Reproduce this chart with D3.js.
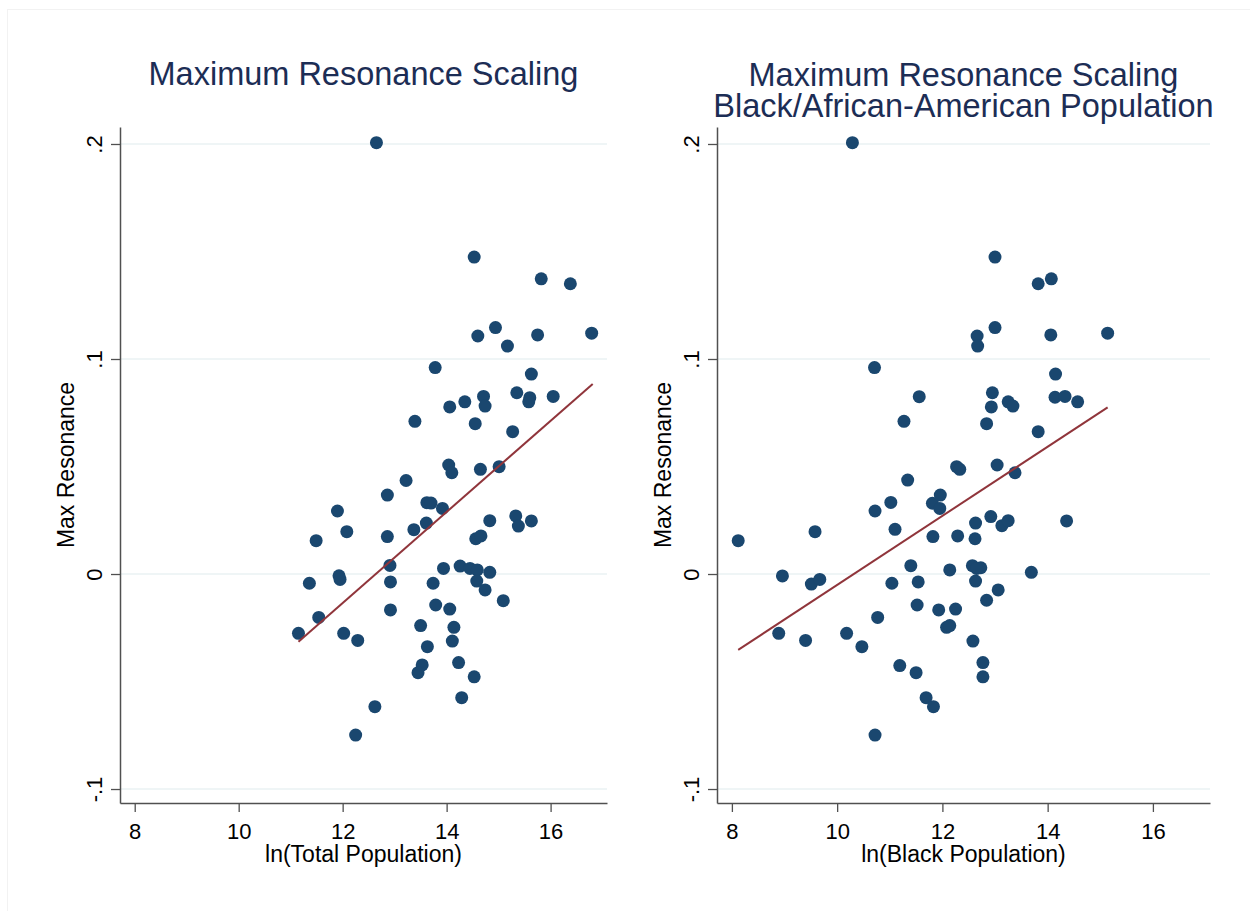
<!DOCTYPE html>
<html>
<head>
<meta charset="utf-8">
<script src="https://cdn.jsdelivr.net/npm/d3@7/dist/d3.min.js"></script>
<style>
  html, body { margin: 0; padding: 0; background: #fff; }
  svg { display: block; font-family: "Liberation Sans", Arial, sans-serif; }
</style>
</head>
<body>
<svg id="chart" width="1250" height="911"></svg>
<script>
// ---- Data ----
const xTicks = [8, 10, 12, 14, 16];
const yTicks = [0.2, 0.1, 0, -0.1];
const yTickLabels = [".2", ".1", "0", "-.1"];

// Left panel: ln(Total Population) vs Max Resonance
const lnTotal = [
  12.65, 14.53, 15.82, 16.38, 14.94, 14.60, 15.75, 16.79, 15.17, 13.78,
  15.63, 15.35, 14.71, 15.60, 15.58, 16.05, 14.35, 14.74, 14.06, 13.39,
  14.55, 15.27, 14.04, 14.65, 15.01, 14.10, 13.22,
  12.86, 13.62, 13.70, 11.90, 13.92, 13.61, 13.37, 12.08, 12.86, 11.49,
  14.83, 15.33, 15.38, 15.63, 14.56, 14.66, 12.91, 13.94, 14.26, 14.45,
  14.59, 14.83, 11.93, 11.95, 11.36, 12.92, 13.74, 14.58, 14.74, 15.09,
  13.79, 14.06, 12.92, 11.54, 11.15, 12.02, 12.29, 13.50, 14.14, 14.11,
  13.63, 13.53, 13.45, 14.23, 14.53, 14.29, 12.62, 12.25
];
const resTotal = [
  0.2006, 0.1474, 0.1373, 0.1350, 0.1146, 0.1107, 0.1112, 0.1120, 0.1060, 0.0960,
  0.0930, 0.0843, 0.0826, 0.0820, 0.0801, 0.0826, 0.0801, 0.0781, 0.0777, 0.0710,
  0.0699, 0.0662, 0.0507, 0.0487, 0.0499, 0.0471, 0.0435,
  0.0367, 0.0332, 0.0330, 0.0293, 0.0305, 0.0237, 0.0206, 0.0197, 0.0174, 0.0155,
  0.0248, 0.0270, 0.0223, 0.0247, 0.0164, 0.0177, 0.0040, 0.0026, 0.0037, 0.0026,
  0.0019, 0.0008, -0.0008, -0.0025, -0.0043, -0.0037, -0.0043, -0.0033, -0.0074, -0.0124,
  -0.0144, -0.0163, -0.0167, -0.0202, -0.0276, -0.0276, -0.0309, -0.0240, -0.0248, -0.0312,
  -0.0338, -0.0423, -0.0459, -0.0412, -0.0478, -0.0575, -0.0617, -0.0749
];
const fitTotalX = [11.15, 16.81];
const fitTotalY = [-0.0315, 0.0884];

// Right panel: ln(Black Population) vs Max Resonance
const lnBlack = [
  10.29, 13.00, 14.07, 13.82, 13.00, 12.66, 12.67, 14.06, 15.14, 10.71,
  14.15, 11.56, 12.95, 13.25, 13.34, 14.14, 14.33, 14.57, 12.93, 11.27,
  12.84, 13.82, 12.27, 12.33, 13.04, 13.38, 11.34,
  10.72, 11.02, 11.81, 11.96, 11.95, 9.58, 8.12, 11.10, 11.82, 12.29,
  12.62, 12.63, 12.92, 13.13, 13.25, 14.36, 11.40, 12.14, 12.57, 12.73,
  12.65, 13.69, 8.96, 9.51, 9.67, 11.04, 11.54, 12.63, 13.06, 12.84,
  11.52, 11.93, 12.25, 10.77, 8.89, 10.18, 9.40, 12.08, 12.14, 12.58,
  10.47, 11.19, 11.50, 12.77, 12.77, 11.69, 11.83, 10.72
];
const resBlack = [
  0.2006, 0.1474, 0.1373, 0.1350, 0.1146, 0.1107, 0.1060, 0.1112, 0.1120, 0.0960,
  0.0930, 0.0825, 0.0843, 0.0801, 0.0781, 0.0822, 0.0826, 0.0801, 0.0777, 0.0710,
  0.0699, 0.0662, 0.0499, 0.0487, 0.0507, 0.0471, 0.0437,
  0.0293, 0.0333, 0.0329, 0.0367, 0.0305, 0.0197, 0.0155, 0.0208, 0.0174, 0.0177,
  0.0164, 0.0237, 0.0267, 0.0225, 0.0248, 0.0247, 0.0039, 0.0019, 0.0039, 0.0029,
  0.0026, 0.0008, -0.0009, -0.0047, -0.0025, -0.0043, -0.0037, -0.0033, -0.0074, -0.0122,
  -0.0144, -0.0167, -0.0163, -0.0202, -0.0276, -0.0276, -0.0309, -0.0248, -0.0240, -0.0312,
  -0.0338, -0.0426, -0.0459, -0.0412, -0.0478, -0.0575, -0.0617, -0.0749
];
const fitBlackX = [8.12, 15.14];
const fitBlackY = [-0.0353, 0.0775];

// ---- Style / layout ----
const markerColor = "#1a476f";
const fitColor = "#90353b";
const gridColor = "#eaf2f3";
const axisColor = "#505050";
const titleColor = "#1c2d55";

const svg = d3.select("#chart");

// faint outer graph-region border
svg.append("rect")
  .attr("x", 7.5).attr("y", 9.5)
  .attr("width", 1250).attr("height", 911)
  .attr("fill", "none").attr("stroke", "#f2f2f2").attr("stroke-width", 1);

const panels = [
  {
    left: 120, right: 607, top: 127, bottom: 803,
    titles: ["Maximum Resonance Scaling"],
    xLabel: "ln(Total Population)",
    xs: lnTotal, ys: resTotal, fx: fitTotalX, fy: fitTotalY
  },
  {
    left: 717, right: 1210, top: 127, bottom: 803,
    titles: ["Maximum Resonance Scaling", "Black/African-American Population"],
    xLabel: "ln(Black Population)",
    xs: lnBlack, ys: resBlack, fx: fitBlackX, fy: fitBlackY
  }
];

panels.forEach(p => {
  const x = d3.scaleLinear().domain([7.717, 17.085]).range([p.left, p.right]);
  const y = d3.scaleLinear().domain([-0.1065, 0.2079]).range([p.bottom, p.top]);
  const g = svg.append("g");

  // gridlines
  g.selectAll("line.grid").data(yTicks).enter().append("line")
    .attr("x1", p.left).attr("x2", p.right)
    .attr("y1", d => y(d)).attr("y2", d => y(d))
    .attr("stroke", gridColor).attr("stroke-width", 1.5);

  // y axis
  const yAxis = d3.axisLeft(y).tickValues(yTicks)
    .tickFormat((d, i) => yTickLabels[i]).tickSizeInner(9).tickSizeOuter(0).tickPadding(0);
  const ya = g.append("g").attr("transform", `translate(${p.left},0)`).call(yAxis);
  ya.select(".domain").attr("stroke", axisColor).attr("stroke-width", 1.5);
  ya.selectAll(".tick line").attr("stroke", axisColor).attr("stroke-width", 1.3);
  ya.selectAll(".tick text")
    .attr("x", null).attr("dy", null)
    .attr("transform", "translate(-18.5,0) rotate(-90)")
    .attr("text-anchor", "middle")
    .attr("fill", "#000")
    .style("font-size", "22px")
    .style("font-family", '"Liberation Sans", Arial, sans-serif');

  // x axis
  const xAxis = d3.axisBottom(x).tickValues(xTicks).tickFormat(d3.format("d"))
    .tickSizeInner(9).tickSizeOuter(0).tickPadding(0);
  const xa = g.append("g").attr("transform", `translate(0,${p.bottom})`).call(xAxis);
  xa.select(".domain").attr("stroke", axisColor).attr("stroke-width", 1.5);
  xa.selectAll(".tick line").attr("stroke", axisColor).attr("stroke-width", 1.3);
  xa.selectAll(".tick text")
    .attr("y", 36).attr("dy", null)
    .attr("fill", "#000")
    .style("font-size", "22px")
    .style("font-family", '"Liberation Sans", Arial, sans-serif');

  // points
  const pts = p.xs.map((v, i) => [v, p.ys[i]]);
  g.selectAll("circle.pt").data(pts).enter().append("circle")
    .attr("cx", d => x(d[0])).attr("cy", d => y(d[1]))
    .attr("r", 6.5).attr("fill", markerColor);

  // fitted line
  const fitPts = p.fx.map((v, i) => [v, p.fy[i]]);
  g.append("path")
    .attr("d", d3.line().x(d => x(d[0])).y(d => y(d[1]))(fitPts))
    .attr("fill", "none").attr("stroke", fitColor).attr("stroke-width", 2);

  // axis titles
  const cx = (p.left + p.right) / 2;
  g.append("text")
    .attr("x", cx).attr("y", 862)
    .attr("text-anchor", "middle").attr("fill", "#000")
    .style("font-size", "23px")
    .text(p.xLabel);
  g.append("text")
    .attr("transform", `translate(${p.left - 46.5},${(p.top + p.bottom) / 2}) rotate(-90)`)
    .attr("text-anchor", "middle").attr("fill", "#000")
    .style("font-size", "23px")
    .text("Max Resonance");

  // titles
  const baseline = p.titles.length === 1 ? 85 : 86;
  p.titles.forEach((t, i) => {
    g.append("text")
      .attr("x", cx).attr("y", baseline + i * 31)
      .attr("text-anchor", "middle").attr("fill", titleColor)
      .style("font-size", "32.5px")
      .text(t);
  });
});
</script>
</body>
</html>
